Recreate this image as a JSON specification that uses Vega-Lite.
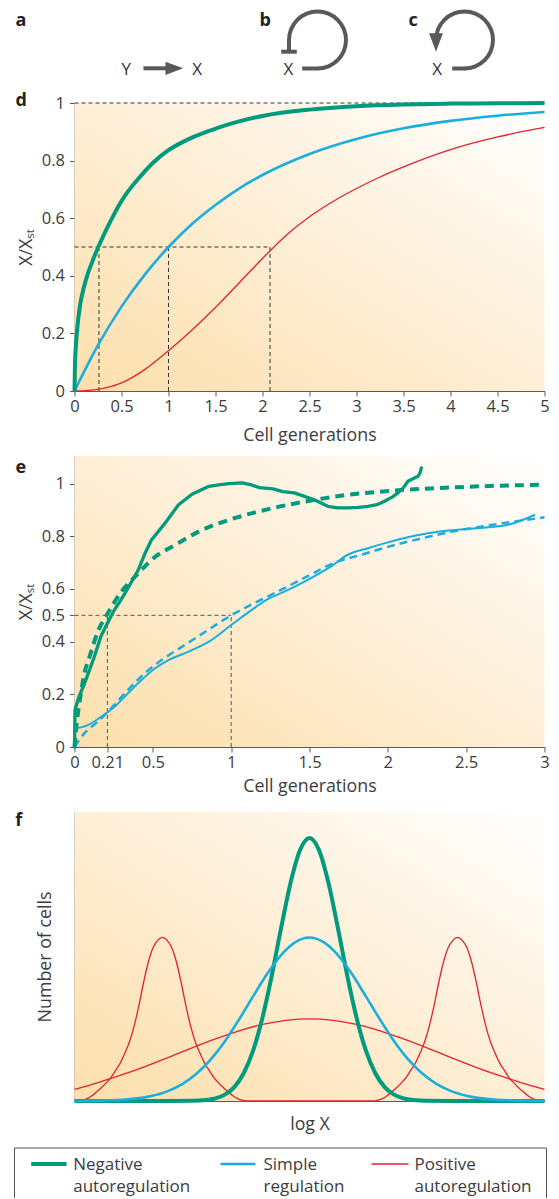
{
  "$schema": "https://vega.github.io/schema/vega-lite/v6.json",
  "padding": {"left": 13.5, "top": 0, "right": 0, "bottom": 0},
  "autosize": {"type": "pad"},
  "bounds": "flush",
  "spacing": 65,
  "config": {
    "view": {"stroke": null},
    "font": "Open Sans",
    "axis": {"labelFont": "Open Sans", "titleFont": "Open Sans", "labelFontSize": 16.5, "titleFontSize": 17.8, "titleFontWeight": "normal", "labelColor": "#3c3c3c", "titleColor": "#3c3c3c", "domainColor": "#5a5a5a", "tickColor": "#5a5a5a", "grid": false, "labelFlush": false, "labelOverlap": false, "tickSize": 5}
  },
  "datasets": {
    "d_neg": [{"x":0,"y":0},{"x":0.005,"y":0.09},{"x":0.015,"y":0.16},{"x":0.03,"y":0.22},{"x":0.06,"y":0.3},{"x":0.1,"y":0.36},{"x":0.15,"y":0.415},{"x":0.2,"y":0.458},{"x":0.26,"y":0.505},{"x":0.35,"y":0.568},{"x":0.5,"y":0.66},{"x":0.7,"y":0.745},{"x":0.85,"y":0.797},{"x":1,"y":0.836},{"x":1.25,"y":0.88},{"x":1.5,"y":0.911},{"x":1.75,"y":0.936},{"x":2,"y":0.955},{"x":2.5,"y":0.977},{"x":3,"y":0.989},{"x":3.5,"y":0.995},{"x":4,"y":0.998},{"x":4.5,"y":0.999},{"x":5,"y":1.0}],
    "d_simple": [{"x":0,"y":0},{"x":0.25,"y":0.159},{"x":0.5,"y":0.293},{"x":0.75,"y":0.405},{"x":1,"y":0.5},{"x":1.25,"y":0.58},{"x":1.5,"y":0.646},{"x":1.75,"y":0.703},{"x":2,"y":0.75},{"x":2.5,"y":0.823},{"x":3,"y":0.875},{"x":3.5,"y":0.912},{"x":4,"y":0.938},{"x":4.5,"y":0.956},{"x":5,"y":0.969}],
    "d_pos": [{"x":0,"y":0},{"x":0.25,"y":0.006},{"x":0.5,"y":0.028},{"x":0.75,"y":0.075},{"x":1,"y":0.14},{"x":1.25,"y":0.212},{"x":1.5,"y":0.29},{"x":1.75,"y":0.375},{"x":2,"y":0.46},{"x":2.25,"y":0.54},{"x":2.5,"y":0.605},{"x":2.75,"y":0.658},{"x":3,"y":0.703},{"x":3.25,"y":0.743},{"x":3.5,"y":0.778},{"x":4,"y":0.838},{"x":4.5,"y":0.882},{"x":5,"y":0.915}],
    "d_ref": [{"x":0,"x2":5,"y":1,"y2":1},{"x":0,"x2":2.08,"y":0.5,"y2":0.5},{"x":0.26,"x2":0.26,"y":0,"y2":0.5},{"x":1,"x2":1,"y":0,"y2":0.5},{"x":2.08,"x2":2.08,"y":0,"y2":0.5}],
    "e_ref": [{"x":0,"x2":1,"y":0.5,"y2":0.5},{"x":0.21,"x2":0.21,"y":0,"y2":0.5},{"x":1,"x2":1,"y":0,"y2":0.5}],
    "e_neg_exp": [{"x":0,"y":0},{"x":0.003,"y":0.14},{"x":0.028,"y":0.19},{"x":0.06,"y":0.235},{"x":0.082,"y":0.27},{"x":0.125,"y":0.34},{"x":0.168,"y":0.42},{"x":0.21,"y":0.47},{"x":0.254,"y":0.52},{"x":0.319,"y":0.58},{"x":0.405,"y":0.67},{"x":0.45,"y":0.735},{"x":0.49,"y":0.785},{"x":0.578,"y":0.85},{"x":0.664,"y":0.92},{"x":0.75,"y":0.96},{"x":0.858,"y":0.99},{"x":0.92,"y":0.995},{"x":0.987,"y":1.0},{"x":1.07,"y":1.003},{"x":1.13,"y":0.995},{"x":1.18,"y":0.985},{"x":1.267,"y":0.98},{"x":1.33,"y":0.97},{"x":1.403,"y":0.965},{"x":1.531,"y":0.939},{"x":1.617,"y":0.914},{"x":1.68,"y":0.908},{"x":1.745,"y":0.908},{"x":1.81,"y":0.91},{"x":1.873,"y":0.914},{"x":1.93,"y":0.92},{"x":1.979,"y":0.933},{"x":2.03,"y":0.95},{"x":2.065,"y":0.965},{"x":2.1,"y":0.985},{"x":2.128,"y":1.009},{"x":2.193,"y":1.028},{"x":2.205,"y":1.04},{"x":2.214,"y":1.06}],
    "e_neg_mod": [{"x":0,"y":0},{"x":0.02,"y":0.12},{"x":0.04,"y":0.2},{"x":0.06,"y":0.27},{"x":0.1,"y":0.35},{"x":0.15,"y":0.44},{"x":0.21,"y":0.505},{"x":0.3,"y":0.59},{"x":0.4,"y":0.655},{"x":0.5,"y":0.715},{"x":0.65,"y":0.77},{"x":0.8,"y":0.82},{"x":1.0,"y":0.865},{"x":1.25,"y":0.905},{"x":1.5,"y":0.935},{"x":1.75,"y":0.958},{"x":2.0,"y":0.972},{"x":2.5,"y":0.988},{"x":3.0,"y":0.996}],
    "e_sim_exp": [{"x":0,"y":0.07},{"x":0.082,"y":0.082},{"x":0.168,"y":0.114},{"x":0.254,"y":0.152},{"x":0.34,"y":0.203},{"x":0.427,"y":0.254},{"x":0.513,"y":0.298},{"x":0.6,"y":0.33},{"x":0.728,"y":0.362},{"x":0.858,"y":0.4},{"x":1.0,"y":0.463},{"x":1.116,"y":0.514},{"x":1.245,"y":0.565},{"x":1.318,"y":0.584},{"x":1.489,"y":0.635},{"x":1.638,"y":0.686},{"x":1.745,"y":0.73},{"x":1.873,"y":0.755},{"x":2.0,"y":0.777},{"x":2.171,"y":0.802},{"x":2.342,"y":0.819},{"x":2.512,"y":0.828},{"x":2.768,"y":0.844},{"x":2.939,"y":0.882}],
    "e_sim_mod": [{"x":0,"y":0},{"x":0.06,"y":0.05},{"x":0.147,"y":0.095},{"x":0.233,"y":0.146},{"x":0.34,"y":0.216},{"x":0.448,"y":0.28},{"x":0.556,"y":0.33},{"x":0.685,"y":0.38},{"x":0.815,"y":0.43},{"x":1.0,"y":0.5},{"x":1.16,"y":0.55},{"x":1.33,"y":0.6},{"x":1.489,"y":0.649},{"x":1.66,"y":0.7},{"x":1.83,"y":0.73},{"x":2.0,"y":0.76},{"x":2.2,"y":0.79},{"x":2.43,"y":0.82},{"x":2.68,"y":0.845},{"x":3.0,"y":0.872}],
    "f_neg": [{"x":0,"y":0},{"x":20,"y":0},{"x":25,"y":0.0007},{"x":28,"y":0.0035},{"x":30,"y":0.0092},{"x":32,"y":0.022},{"x":34,"y":0.048},{"x":36,"y":0.096},{"x":38,"y":0.174},{"x":40,"y":0.289},{"x":42,"y":0.436},{"x":44,"y":0.602},{"x":46,"y":0.757},{"x":48,"y":0.869},{"x":50,"y":0.91},{"x":52,"y":0.869},{"x":54,"y":0.757},{"x":56,"y":0.602},{"x":58,"y":0.436},{"x":60,"y":0.289},{"x":62,"y":0.174},{"x":64,"y":0.096},{"x":66,"y":0.048},{"x":68,"y":0.022},{"x":70,"y":0.0092},{"x":72,"y":0.0035},{"x":75,"y":0.0007},{"x":80,"y":0},{"x":100,"y":0}],
    "f_sim": [{"x":0,"y":0},{"x":7,"y":0.002},{"x":12,"y":0.0064},{"x":16,"y":0.016},{"x":20,"y":0.035},{"x":23,"y":0.059},{"x":26,"y":0.095},{"x":29,"y":0.144},{"x":32,"y":0.207},{"x":35,"y":0.282},{"x":38,"y":0.362},{"x":41,"y":0.44},{"x":44,"y":0.506},{"x":47,"y":0.55},{"x":50,"y":0.566},{"x":53,"y":0.55},{"x":56,"y":0.506},{"x":59,"y":0.44},{"x":62,"y":0.362},{"x":65,"y":0.282},{"x":68,"y":0.207},{"x":71,"y":0.144},{"x":74,"y":0.095},{"x":77,"y":0.059},{"x":80,"y":0.035},{"x":84,"y":0.016},{"x":88,"y":0.0064},{"x":93,"y":0.002},{"x":100,"y":0}],
    "f_pos_bi": [{"x":0,"y":0},{"x":0.7,"y":0},{"x":1.7,"y":0.003},{"x":2.7,"y":0.008},{"x":3.7,"y":0.018},{"x":4.7,"y":0.032},{"x":5.7,"y":0.046},{"x":6.7,"y":0.062},{"x":7.7,"y":0.08},{"x":8.7,"y":0.105},{"x":9.7,"y":0.13},{"x":10.7,"y":0.165},{"x":11.7,"y":0.205},{"x":12.7,"y":0.26},{"x":13.7,"y":0.33},{"x":14.7,"y":0.41},{"x":15.7,"y":0.48},{"x":16.7,"y":0.53},{"x":17.7,"y":0.556},{"x":18.7,"y":0.566},{"x":19.7,"y":0.556},{"x":20.7,"y":0.53},{"x":21.7,"y":0.48},{"x":22.7,"y":0.41},{"x":23.7,"y":0.33},{"x":24.7,"y":0.26},{"x":25.7,"y":0.205},{"x":26.7,"y":0.165},{"x":27.7,"y":0.13},{"x":28.7,"y":0.105},{"x":29.7,"y":0.08},{"x":30.7,"y":0.062},{"x":31.7,"y":0.046},{"x":32.7,"y":0.032},{"x":33.7,"y":0.018},{"x":34.7,"y":0.008},{"x":35.7,"y":0.003},{"x":36.7,"y":0},{"x":63.5,"y":0},{"x":64.5,"y":0.003},{"x":65.5,"y":0.008},{"x":66.5,"y":0.018},{"x":67.5,"y":0.032},{"x":68.5,"y":0.046},{"x":69.5,"y":0.062},{"x":70.5,"y":0.08},{"x":71.5,"y":0.105},{"x":72.5,"y":0.13},{"x":73.5,"y":0.165},{"x":74.5,"y":0.205},{"x":75.5,"y":0.26},{"x":76.5,"y":0.33},{"x":77.5,"y":0.41},{"x":78.5,"y":0.48},{"x":79.5,"y":0.53},{"x":80.5,"y":0.556},{"x":81.5,"y":0.566},{"x":82.5,"y":0.556},{"x":83.5,"y":0.53},{"x":84.5,"y":0.48},{"x":85.5,"y":0.41},{"x":86.5,"y":0.33},{"x":87.5,"y":0.26},{"x":88.5,"y":0.205},{"x":89.5,"y":0.165},{"x":90.5,"y":0.13},{"x":91.5,"y":0.105},{"x":92.5,"y":0.08},{"x":93.5,"y":0.062},{"x":94.5,"y":0.046},{"x":95.5,"y":0.032},{"x":96.5,"y":0.018},{"x":97.5,"y":0.008},{"x":98.5,"y":0.003},{"x":99.5,"y":0},{"x":100,"y":0}],
    "f_pos_broad": [{"x":0,"y":0.04},{"x":5,"y":0.064},{"x":10,"y":0.09},{"x":15,"y":0.119},{"x":20,"y":0.151},{"x":25,"y":0.184},{"x":30,"y":0.215},{"x":35,"y":0.243},{"x":40,"y":0.265},{"x":45,"y":0.279},{"x":50,"y":0.284},{"x":55,"y":0.279},{"x":60,"y":0.265},{"x":65,"y":0.243},{"x":70,"y":0.215},{"x":75,"y":0.184},{"x":80,"y":0.151},{"x":85,"y":0.119},{"x":90,"y":0.09},{"x":95,"y":0.064},{"x":100,"y":0.04}]
  },
  "vconcat": [
    {
      "width": 470, "height": 38,
      "data": {"values": [{}]},
      "encoding": {
        "x": {"datum": 0, "type": "quantitative", "scale": {"domain": [0, 470], "nice": false, "zero": false}, "axis": null},
        "y": {"datum": 0, "type": "quantitative", "scale": {"domain": [0, 38], "nice": false, "zero": false, "reverse": true}, "axis": null}
      },
      "layer": [
        {"mark": {"type": "text", "text": "a", "fontWeight": "bold", "fontSize": 18, "align": "left", "baseline": "alphabetic", "color": "#222"}, "encoding": {"x": {"datum": -59, "type": "quantitative"}, "y": {"datum": 25.5, "type": "quantitative"}}},
        {"mark": {"type": "text", "text": "b", "fontWeight": "bold", "fontSize": 18, "align": "left", "baseline": "alphabetic", "color": "#222"}, "encoding": {"x": {"datum": 185, "type": "quantitative"}, "y": {"datum": 25.5, "type": "quantitative"}}},
        {"mark": {"type": "text", "text": "c", "fontWeight": "bold", "fontSize": 18, "align": "left", "baseline": "alphabetic", "color": "#222"}, "encoding": {"x": {"datum": 334, "type": "quantitative"}, "y": {"datum": 25.5, "type": "quantitative"}}},
        {"mark": {"type": "text", "text": "Y", "fontSize": 17, "align": "center", "baseline": "alphabetic", "color": "#333"}, "encoding": {"x": {"datum": 51.7, "type": "quantitative"}, "y": {"datum": 75, "type": "quantitative"}}},
        {"mark": {"type": "text", "text": "X", "fontSize": 17, "align": "center", "baseline": "alphabetic", "color": "#333"}, "encoding": {"x": {"datum": 122.7, "type": "quantitative"}, "y": {"datum": 75, "type": "quantitative"}}},
        {"mark": {"type": "text", "text": "X", "fontSize": 17, "align": "center", "baseline": "alphabetic", "color": "#333"}, "encoding": {"x": {"datum": 214, "type": "quantitative"}, "y": {"datum": 75, "type": "quantitative"}}},
        {"mark": {"type": "text", "text": "X", "fontSize": 17, "align": "center", "baseline": "alphabetic", "color": "#333"}, "encoding": {"x": {"datum": 362.7, "type": "quantitative"}, "y": {"datum": 75, "type": "quantitative"}}},
        {"mark": {"type": "rule", "color": "#595959", "strokeWidth": 4, "strokeCap": "butt"}, "encoding": {"x": {"datum": 69, "type": "quantitative"}, "x2": {"datum": 93}, "y": {"datum": 68.3, "type": "quantitative"}}},
        {"mark": {"type": "point", "shape": "M-1,-0.75L1,0L-1,0.75Z", "filled": true, "size": 313, "color": "#595959", "opacity": 1, "strokeWidth": 0}, "encoding": {"x": {"datum": 99.8, "type": "quantitative"}, "y": {"datum": 68.3, "type": "quantitative"}}},
        {"mark": {"type": "arc", "innerRadius": 26.5, "outerRadius": 30.5, "theta": -1.5708, "theta2": 3.1416, "color": "#595959"}, "encoding": {"x": {"datum": 243, "type": "quantitative"}, "y": {"datum": 40, "type": "quantitative"}}},
        {"mark": {"type": "rule", "color": "#595959", "strokeWidth": 4, "strokeCap": "butt"}, "encoding": {"x": {"datum": 214.5, "type": "quantitative"}, "y": {"datum": 39, "type": "quantitative"}, "y2": {"datum": 52}}},
        {"mark": {"type": "rule", "color": "#595959", "strokeWidth": 4, "strokeCap": "butt"}, "encoding": {"x": {"datum": 206.7, "type": "quantitative"}, "x2": {"datum": 222.3}, "y": {"datum": 51.7, "type": "quantitative"}}},
        {"mark": {"type": "rule", "color": "#595959", "strokeWidth": 4, "strokeCap": "butt"}, "encoding": {"x": {"datum": 227.7, "type": "quantitative"}, "x2": {"datum": 244}, "y": {"datum": 68.5, "type": "quantitative"}}},
        {"mark": {"type": "arc", "innerRadius": 26.5, "outerRadius": 30.5, "theta": -1.5708, "theta2": 3.1416, "color": "#595959"}, "encoding": {"x": {"datum": 390, "type": "quantitative"}, "y": {"datum": 40, "type": "quantitative"}}},
        {"mark": {"type": "point", "shape": "M-0.75,-1L0.75,-1L0,1Z", "filled": true, "size": 339, "color": "#595959", "opacity": 1, "strokeWidth": 0}, "encoding": {"x": {"datum": 361.5, "type": "quantitative"}, "y": {"datum": 42.5, "type": "quantitative"}}},
        {"mark": {"type": "rule", "color": "#595959", "strokeWidth": 4, "strokeCap": "butt"}, "encoding": {"x": {"datum": 377.7, "type": "quantitative"}, "x2": {"datum": 391}, "y": {"datum": 68.5, "type": "quantitative"}}}
      ]
    },
    {
      "width": 470, "height": 288,
      "layer": [
        {"data": {"values": [{}]}, "mark": {"type": "rect", "fill": {"gradient": "linear", "x1": 0, "y1": 1, "x2": 1, "y2": 0, "stops": [{"offset": 0, "color": "#FCDFAB"}, {"offset": 0.55, "color": "#FEF0DA"}, {"offset": 1, "color": "#FFFFFF"}]}},
         "encoding": {
           "x": {"datum": 0, "type": "quantitative", "scale": {"domain": [0, 5], "nice": false, "zero": false}, "axis": {"title": "Cell generations", "values": [0,0.5,1,1.5,2,2.5,3,3.5,4,4.5,5], "format": "~g", "labelPadding": 2, "titlePadding": 12}},
           "x2": {"datum": 5},
           "y": {"datum": 0, "type": "quantitative", "scale": {"domain": [0, 1], "nice": false, "zero": false}, "axis": {"title": "X/Xₛₜ", "values": [0,0.2,0.4,0.6,0.8,1], "format": "~g", "labelPadding": 5, "titlePadding": 6}},
           "y2": {"datum": 1}}},
        {"data": {"name": "d_ref"}, "mark": {"type": "rule", "color": "#333", "strokeWidth": 1, "strokeDash": [4, 3]}, "encoding": {"x": {"field": "x", "type": "quantitative"}, "x2": {"field": "x2"}, "y": {"field": "y", "type": "quantitative"}, "y2": {"field": "y2"}}},
        {"data": {"name": "d_pos"}, "mark": {"type": "line", "color": "#E3222B", "strokeWidth": 1.3, "interpolate": "monotone"}, "encoding": {"x": {"field": "x", "type": "quantitative"}, "y": {"field": "y", "type": "quantitative"}}},
        {"data": {"name": "d_simple"}, "mark": {"type": "line", "color": "#1AAEDF", "strokeWidth": 2.6, "interpolate": "monotone"}, "encoding": {"x": {"field": "x", "type": "quantitative"}, "y": {"field": "y", "type": "quantitative"}}},
        {"data": {"name": "d_neg"}, "mark": {"type": "line", "color": "#009A7C", "strokeWidth": 4, "interpolate": "monotone"}, "encoding": {"x": {"field": "x", "type": "quantitative"}, "y": {"field": "y", "type": "quantitative"}}},
        {"data": {"values": [{}]}, "mark": {"type": "text", "text": "d", "fontWeight": "bold", "fontSize": 18, "align": "left", "baseline": "alphabetic", "color": "#222"}, "encoding": {"x": {"datum": -0.628, "type": "quantitative"}, "y": {"datum": 0.988, "type": "quantitative"}}}
      ]
    },
    {
      "width": 470, "height": 291,
      "layer": [
        {"data": {"values": [{}]}, "mark": {"type": "rect", "fill": {"gradient": "linear", "x1": 0, "y1": 1, "x2": 1, "y2": 0, "stops": [{"offset": 0, "color": "#FCDFAB"}, {"offset": 0.55, "color": "#FEF0DA"}, {"offset": 1, "color": "#FFFFFF"}]}},
         "encoding": {
           "x": {"datum": 0, "type": "quantitative", "scale": {"domain": [0, 3], "nice": false, "zero": false}, "axis": {"title": "Cell generations", "values": [0,0.21,0.5,1,1.5,2,2.5,3], "format": "~g", "labelPadding": 2, "titlePadding": 7}},
           "x2": {"datum": 3},
           "y": {"datum": 0, "type": "quantitative", "scale": {"domain": [0, 1.105], "nice": false, "zero": false}, "axis": {"title": "X/Xₛₜ", "values": [0,0.2,0.4,0.5,0.6,0.8,1], "format": "~g", "labelPadding": 5, "titlePadding": 6}},
           "y2": {"datum": 1.105}}},
        {"data": {"name": "e_ref"}, "mark": {"type": "rule", "color": "#555", "strokeWidth": 1, "strokeDash": [4, 3]}, "encoding": {"x": {"field": "x", "type": "quantitative"}, "x2": {"field": "x2"}, "y": {"field": "y", "type": "quantitative"}, "y2": {"field": "y2"}}},
        {"data": {"name": "e_sim_mod"}, "mark": {"type": "line", "color": "#1AAEDF", "strokeWidth": 2.5, "strokeDash": [8, 5], "interpolate": "monotone"}, "encoding": {"x": {"field": "x", "type": "quantitative"}, "y": {"field": "y", "type": "quantitative"}}},
        {"data": {"name": "e_sim_exp"}, "mark": {"type": "line", "color": "#1AAEDF", "strokeWidth": 2, "interpolate": "monotone"}, "encoding": {"x": {"field": "x", "type": "quantitative"}, "y": {"field": "y", "type": "quantitative"}}},
        {"data": {"name": "e_neg_mod"}, "mark": {"type": "line", "color": "#009A7C", "strokeWidth": 4, "strokeDash": [9, 6], "interpolate": "monotone"}, "encoding": {"x": {"field": "x", "type": "quantitative"}, "y": {"field": "y", "type": "quantitative"}}},
        {"data": {"name": "e_neg_exp"}, "mark": {"type": "line", "color": "#009A7C", "strokeWidth": 3.3, "interpolate": "linear", "strokeJoin": "round", "strokeCap": "round"}, "encoding": {"x": {"field": "x", "type": "quantitative"}, "y": {"field": "y", "type": "quantitative"}}},
        {"data": {"values": [{}]}, "mark": {"type": "text", "text": "e", "fontWeight": "bold", "fontSize": 18, "align": "left", "baseline": "alphabetic", "color": "#222"}, "encoding": {"x": {"datum": -0.377, "type": "quantitative"}, "y": {"datum": 1.04, "type": "quantitative"}}}
      ]
    },
    {
      "width": 470, "height": 289,
      "layer": [
        {"data": {"values": [{}]}, "mark": {"type": "rect", "fill": {"gradient": "linear", "x1": 0, "y1": 1, "x2": 1, "y2": 0, "stops": [{"offset": 0, "color": "#FCDFAB"}, {"offset": 0.55, "color": "#FEF0DA"}, {"offset": 1, "color": "#FFFFFF"}]}},
         "encoding": {
           "x": {"datum": 0, "type": "quantitative", "scale": {"domain": [0, 100], "nice": false, "zero": false}, "axis": {"title": "log X", "ticks": false, "labels": false, "titlePadding": 14}},
           "x2": {"datum": 100},
           "y": {"datum": 0, "type": "quantitative", "scale": {"domain": [0, 1], "nice": false, "zero": false}, "axis": {"title": "Number of cells", "ticks": false, "labels": false, "titlePadding": 20}},
           "y2": {"datum": 1}}},
        {"data": {"name": "f_pos_broad"}, "mark": {"type": "line", "color": "#E3222B", "strokeWidth": 1.3, "interpolate": "monotone"}, "encoding": {"x": {"field": "x", "type": "quantitative"}, "y": {"field": "y", "type": "quantitative"}}},
        {"data": {"name": "f_pos_bi"}, "mark": {"type": "line", "color": "#E3222B", "strokeWidth": 1.3, "interpolate": "monotone"}, "encoding": {"x": {"field": "x", "type": "quantitative"}, "y": {"field": "y", "type": "quantitative"}}},
        {"data": {"name": "f_neg"}, "mark": {"type": "line", "color": "#009A7C", "strokeWidth": 4, "interpolate": "monotone"}, "encoding": {"x": {"field": "x", "type": "quantitative"}, "y": {"field": "y", "type": "quantitative"}}},
        {"data": {"name": "f_sim"}, "mark": {"type": "line", "color": "#1AAEDF", "strokeWidth": 2.6, "interpolate": "monotone"}, "encoding": {"x": {"field": "x", "type": "quantitative"}, "y": {"field": "y", "type": "quantitative"}}},
        {"data": {"values": [{}]}, "mark": {"type": "text", "text": "f", "fontWeight": "bold", "fontSize": 18, "align": "left", "baseline": "alphabetic", "color": "#222"}, "encoding": {"x": {"datum": -12.6, "type": "quantitative"}, "y": {"datum": 0.952, "type": "quantitative"}}}
      ]
    },
    {
      "width": 470, "height": 33,
      "data": {"values": [{}]},
      "encoding": {
        "x": {"datum": 0, "type": "quantitative", "scale": {"domain": [0, 470], "nice": false, "zero": false}, "axis": null},
        "y": {"datum": 0, "type": "quantitative", "scale": {"domain": [0, 33], "nice": false, "zero": false, "reverse": true}, "axis": null}
      },
      "layer": [
        {"mark": {"type": "rule", "color": "#555", "strokeWidth": 1}, "encoding": {"x": {"datum": -60, "type": "quantitative"}, "x2": {"datum": 472}, "y": {"datum": -18, "type": "quantitative"}}},
        {"mark": {"type": "rule", "color": "#555", "strokeWidth": 1}, "encoding": {"x": {"datum": -60, "type": "quantitative"}, "y": {"datum": -18, "type": "quantitative"}, "y2": {"datum": 32}}},
        {"mark": {"type": "rule", "color": "#555", "strokeWidth": 1}, "encoding": {"x": {"datum": 472, "type": "quantitative"}, "y": {"datum": -18, "type": "quantitative"}, "y2": {"datum": 32}}},
        {"mark": {"type": "rule", "color": "#009A7C", "strokeWidth": 4}, "encoding": {"x": {"datum": -43.3, "type": "quantitative"}, "x2": {"datum": -8}, "y": {"datum": -2, "type": "quantitative"}}},
        {"mark": {"type": "rule", "color": "#1AAEDF", "strokeWidth": 2.5}, "encoding": {"x": {"datum": 146, "type": "quantitative"}, "x2": {"datum": 181}, "y": {"datum": -2, "type": "quantitative"}}},
        {"mark": {"type": "rule", "color": "#E3222B", "strokeWidth": 1.5}, "encoding": {"x": {"datum": 297, "type": "quantitative"}, "x2": {"datum": 334}, "y": {"datum": -2, "type": "quantitative"}}},
        {"mark": {"type": "text", "text": ["Negative", "autoregulation"], "lineHeight": 22, "fontSize": 17, "align": "left", "baseline": "alphabetic", "color": "#3c3c3c"}, "encoding": {"x": {"datum": -1.3, "type": "quantitative"}, "y": {"datum": 4, "type": "quantitative"}}},
        {"mark": {"type": "text", "text": ["Simple", "regulation"], "lineHeight": 22, "fontSize": 17, "align": "left", "baseline": "alphabetic", "color": "#3c3c3c"}, "encoding": {"x": {"datum": 189, "type": "quantitative"}, "y": {"datum": 4, "type": "quantitative"}}},
        {"mark": {"type": "text", "text": ["Positive", "autoregulation"], "lineHeight": 22, "fontSize": 17, "align": "left", "baseline": "alphabetic", "color": "#3c3c3c"}, "encoding": {"x": {"datum": 340, "type": "quantitative"}, "y": {"datum": 4, "type": "quantitative"}}}
      ]
    }
  ]
}
